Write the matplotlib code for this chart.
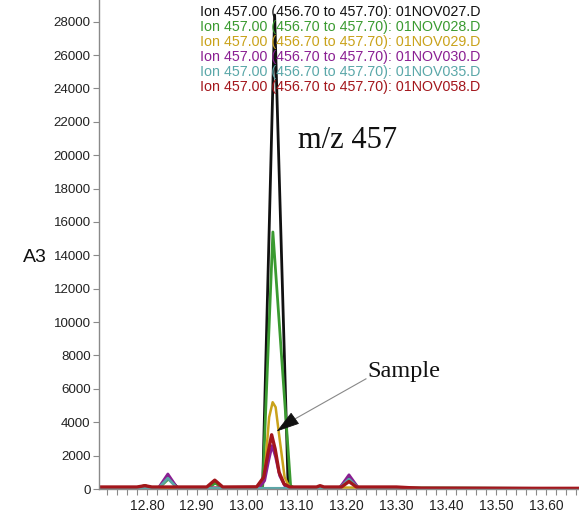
import matplotlib
matplotlib.use("Agg")
import matplotlib.pyplot as plt
from matplotlib.ticker import MultipleLocator

# ---- data ----
files = ["01NOV027.D", "01NOV028.D", "01NOV029.D", "01NOV030.D", "01NOV035.D", "01NOV058.D"]
colors = ["#111111", "#3a9a30", "#c9a21a", "#8a1f92", "#5aa7a8", "#a3161c"]
widths = [2.0, 2.0, 1.8, 2.0, 2.0, 2.4]

t_black = [12.704, 12.78, 12.796, 12.81, 12.824, 12.843, 12.862, 12.922, 12.937, 12.952, 13.025, 13.032, 13.056, 13.083, 13.09, 13.186, 13.205, 13.224, 13.30, 13.666]
y_black = [60, 60, 200, 60, 60, 700, 60, 60, 400, 60, 60, 200, 28400, 200, 60, 60, 650, 60, 60, 30]

t_green = [12.704, 12.824, 12.843, 12.862, 12.922, 12.937, 12.952, 13.025, 13.032, 13.0525, 13.088, 13.095, 13.186, 13.205, 13.224, 13.666]
y_green = [60, 60, 600, 60, 60, 350, 60, 60, 200, 15400, 200, 60, 60, 600, 60, 30]

t_yellow = [12.704, 12.78, 12.796, 12.81, 13.025, 13.035, 13.045, 13.052, 13.058, 13.066, 13.076, 13.086, 13.666]
y_yellow = [60, 60, 220, 60, 80, 600, 4300, 5200, 4900, 3000, 700, 100, 30]

t_purple = [12.704, 12.823, 12.842, 12.861, 13.025, 13.036, 13.044, 13.051, 13.058, 13.066, 13.076, 13.086, 13.186, 13.205, 13.224, 13.666]
y_purple = [60, 60, 900, 60, 80, 500, 1700, 2600, 1900, 800, 200, 80, 60, 850, 60, 30]

t_teal = [12.704, 12.823, 12.842, 12.861, 13.186, 13.205, 13.224, 13.666]
y_teal = [40, 40, 650, 40, 40, 600, 40, 20]

t_red = [12.704, 12.78, 12.796, 12.81, 12.92, 12.936, 12.952, 13.02, 13.034, 13.043, 13.050, 13.057, 13.065, 13.075, 13.086, 13.14, 13.147, 13.155, 13.19, 13.205, 13.22, 13.30, 13.35, 13.666]
y_red = [120, 120, 200, 120, 120, 530, 120, 130, 700, 2200, 3250, 2400, 1000, 300, 120, 120, 200, 120, 120, 450, 120, 120, 40, 40]

series_t = [t_black, t_green, t_yellow, t_purple, t_teal, t_red]
series_y = [y_black, y_green, y_yellow, y_purple, y_teal, y_red]

ion_label = "Ion 457.00 (456.70 to 457.70): "
x_ticks = [12.80, 12.90, 13.00, 13.10, 13.20, 13.30, 13.40, 13.50, 13.60]
y_ticks = list(range(0, 28001, 2000))

# ---- figure ----
fig = plt.figure(figsize=(5.79, 5.15), dpi=100)
ax = fig.add_axes([99 / 579, 26 / 515, 480 / 579, 489 / 515])

for t, y, c, w in zip(series_t, series_y, colors, widths):
    ax.plot(t, y, color=c, lw=w, solid_joinstyle="round")

ax.set_xlim(12.704, 13.666)
ax.set_ylim(0, 29300)
ax.set_xticks(x_ticks)
ax.set_xticklabels([f"{v:.2f}" for v in x_ticks])
ax.xaxis.set_minor_locator(MultipleLocator(0.02))
ax.set_yticks(y_ticks)
ax.set_yticklabels([str(v) for v in y_ticks])

for s in ["top", "right"]:
    ax.spines[s].set_visible(False)
for s in ["left", "bottom"]:
    ax.spines[s].set_color("#8a8a8a")
    ax.spines[s].set_linewidth(1.0)

ax.tick_params(axis="both", colors="#8a8a8a", labelcolor="#222222", length=4, width=0.8)
ax.tick_params(axis="x", which="minor", colors="#8a8a8a", length=4, width=0.8)
ax.tick_params(axis="y", labelsize=9.6, pad=2)
ax.tick_params(axis="x", labelsize=10, pad=3)
for lab in ax.get_xticklabels() + ax.get_yticklabels():
    lab.set_family("Liberation Sans")

# legend-like header text
for i, (f, c) in enumerate(zip(files, colors)):
    fig.text(200 / 579, 1 - (12 + 15 * i) / 515, ion_label + f, color=c,
             fontsize=10.25, family="Liberation Sans", ha="left", va="center")

fig.text(35 / 579, 1 - 257 / 515, "A3", fontsize=14, family="Liberation Sans",
         ha="center", va="center", color="#111111")

fig.text(298 / 579, 1 - 141 / 515, "m/z 457", fontsize=22, family="Liberation Serif",
         ha="left", va="center", color="#111111")

# "Sample" pointer: thin grey shaft, black filled head
ax.plot([13.239, 13.085], [6600, 4000], color="#888888", lw=0.8)
ax.annotate("", xy=(13.06, 3450), xytext=(13.088, 4050),
            arrowprops=dict(arrowstyle="-|>,head_length=1.5,head_width=0.45",
                            color="#111111", lw=0.6, shrinkA=0, shrinkB=0))
fig.text(367 / 579, 1 - 371 / 515, "Sample", fontsize=17.5, family="Liberation Serif",
         ha="left", va="center", color="#111111")

fig.savefig("out.png", dpi=100)
